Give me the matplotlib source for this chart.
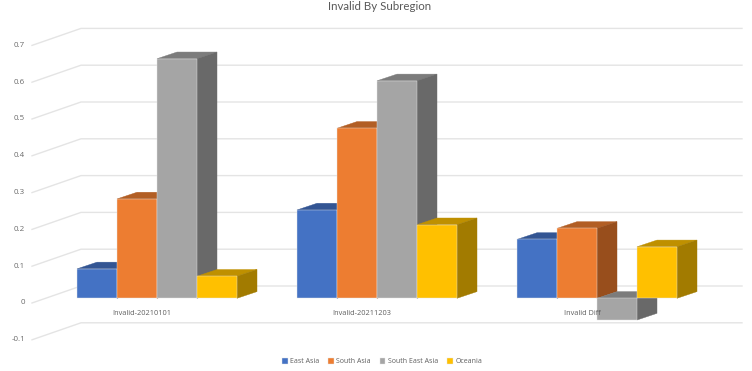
import matplotlib
matplotlib.use('Agg')
import matplotlib.pyplot as plt

# --- Data ---
categories = ['Invalid-20210101', 'Invalid-20211203', 'Invalid Diff']
series = ['East Asia', 'South Asia', 'South East Asia', 'Oceania']
east_asia = [0.08, 0.24, 0.16]
south_asia = [0.27, 0.462, 0.19]
south_east_asia = [0.651, 0.591, -0.059]
oceania = [0.06, 0.20, 0.14]
values = [east_asia, south_asia, south_east_asia, oceania]
grid_values = [-0.1, 0, 0.1, 0.2, 0.3, 0.4, 0.5, 0.6, 0.7]

front = ['#4472C4', '#ED7D31', '#A5A5A5', '#FFC000']
top = ['#335593', '#B25E24', '#7C7C7C', '#BF9000']
side = ['#2B4A80', '#984E1C', '#696969', '#A27B00']

# --- Fake 3D projection, in data units ---
PX_X = 220.0   # pixels per category
PX_Y = 368.0   # pixels per 1.0 of value
bar_w = 40 / PX_X
dx = 20 / PX_X
dy = 6.7 / PX_Y

fig = plt.figure(figsize=(7.52, 3.71), dpi=100)
ax = fig.add_axes([0, 0, 1, 1])
ax.set_xlim(-157 / PX_X, (752 - 157) / PX_X)
ax.set_ylim(-(371 - 298.3) / PX_Y, 298.3 / PX_Y)
ax.axis('off')

# walls: gridline runs along the floor side, then across the back
grid_color = '#E4E4E4'
x_front = -125 / PX_X
x_back = -76 / PX_X
x_right = 585 / PX_X
y_front = -4.7 / PX_Y
y_back = 12.3 / PX_Y
for v in grid_values:
    ax.plot([x_front, x_back, x_right], [v + y_front, v + y_back, v + y_back],
            color=grid_color, lw=1.0, zorder=1, solid_joinstyle='miter')
    label = '0' if v == 0 else str(v)
    ax.text(-132 / PX_X, v + y_front, label, ha='right', va='center',
            fontsize=5.7, color='#6a6a6a', family='Open Sans', zorder=2)

# --- Bars, left to right so nearer ones cover the side of the previous ---
z = 3
for c in range(len(categories)):
    for s in range(len(series)):
        v = values[s][c]
        left = c - 2 * bar_w + s * bar_w
        right = left + bar_w
        lo, hi = min(0, v), max(0, v)
        ax.fill([left, right, right + dx, left + dx],
                [hi, hi, hi + dy, hi + dy], color=top[s], lw=0.3, zorder=z)
        ax.fill([right, right + dx, right + dx, right],
                [lo, lo + dy, hi + dy, hi], color=side[s], lw=0.3, zorder=z)
        ax.bar(left, v, width=bar_w, align='edge', color=front[s],
               edgecolor='#e6e6e6', linewidth=0.3, zorder=z + 1,
               label=series[s] if c == 0 else None)
        z += 2

for c, name in enumerate(categories):
    ax.text(c - 15 / PX_X, -15 / PX_Y, name, ha='center', va='center',
            fontsize=5.3, color='#5f5f5f', family='Open Sans', zorder=100)

ax.text(223 / PX_X, 292 / PX_Y, 'Invalid By Subregion', ha='center', va='center',
        fontsize=8.3, color='#595959', family='Lato', zorder=100)

leg = ax.legend(loc='center', bbox_to_anchor=(382 / 752, 1 - 361.5 / 371), ncol=4,
                frameon=False, handlelength=0.8, handleheight=0.9,
                handletextpad=0.35, columnspacing=1.3, borderpad=0,
                prop={'family': 'Open Sans', 'size': 5.0})
for t in leg.get_texts():
    t.set_color('#5f5f5f')

fig.savefig('out.png', dpi=100)
